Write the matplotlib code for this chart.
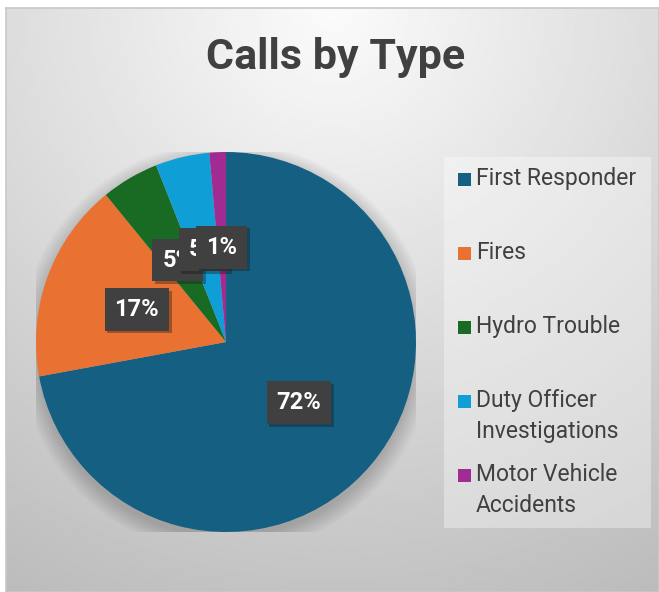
# Calls by Type - pie chart with boxed percentage labels
import numpy as np
import matplotlib.pyplot as plt
from matplotlib.patches import Rectangle, Circle
import matplotlib.patheffects as pe

categories = ["First Responder", "Fires", "Hydro Trouble",
              "Duty Officer Investigations", "Motor Vehicle Accidents"]
legend_labels = ["First Responder", "Fires", "Hydro Trouble",
                 "Duty Officer\nInvestigations", "Motor Vehicle\nAccidents"]
shares = [72.1, 17.0, 4.9, 4.6, 1.4]
colors = ["#156082", "#E97132", "#196B24", "#0F9ED5", "#A02B93"]

plt.rcParams["font.family"] = ["Roboto", "DejaVu Sans"]

W, H = 659, 592
fig = plt.figure(figsize=(W / 100, H / 100), dpi=100, facecolor="white")

# chart area background: soft radial gradient, light at top centre
bg = fig.add_axes([6 / W, 0, 1 - 6 / W, 1 - 8 / H])
yy, xx = np.mgrid[0:1:300j, 0:1:300j]
dist = np.sqrt(((xx - 0.5) * 1.1) ** 2 + (yy * 1.0) ** 2)
shade = 0.985 - 0.22 * np.clip(dist, 0, 1.2)
bg.imshow(shade, cmap="gray", vmin=0, vmax=1, aspect="auto",
          extent=[0, 1, 1, 0], interpolation="bilinear")
bg.set_xlim(0, 1)
bg.set_ylim(1, 0)
bg.set_xticks([])
bg.set_yticks([])
for s in bg.spines.values():
    s.set_color("#c8c8c8")
    s.set_linewidth(1.2)

# title
fig.text(336 / W, 1 - 58 / H, "Calls by Type", ha="center", va="center",
         fontsize=31, fontweight="bold", color="#404040")

# pie
cx, cy, r = 226, 342, 190
ax = fig.add_axes([(cx - r) / W, (H - cy - r) / H, 2 * r / W, 2 * r / H])

# soft shadow under the pie
for k in range(8):
    ax.add_patch(Circle((0, -0.03), 1.0 + 0.012 * k, color="black",
                        alpha=0.025, lw=0, zorder=0))

wedges, texts, autotexts = ax.pie(
    shares, colors=colors, startangle=90, counterclock=False,
    radius=1, autopct="%.0f%%", pctdistance=0.5,
    wedgeprops=dict(linewidth=0),
    textprops=dict(color="white", fontsize=17, fontweight="bold"))
for t in autotexts:
    t.set_bbox(dict(boxstyle="square,pad=0.42", facecolor="#404040",
                    edgecolor="none"))
    t.get_bbox_patch().set_path_effects(
        [pe.SimplePatchShadow(offset=(2, -2), alpha=0.35), pe.Normal()])
    t.set_zorder(5)

# pie() resets the limits, so set them afterwards
ax.set_xlim(-1, 1)
ax.set_ylim(-1, 1)
ax.set_aspect("equal")
ax.axis("off")

# legend drawn as a panel on the right
lx0, ly0, lx1, ly1 = 444, 157, 651, 528
fig.patches.append(Rectangle((lx0 / W, 1 - ly1 / H), (lx1 - lx0) / W,
                             (ly1 - ly0) / H, transform=fig.transFigure,
                             facecolor="white", alpha=0.35, edgecolor="none"))
for i, (lab, col) in enumerate(zip(legend_labels, colors)):
    y = 179 + 74 * i
    fig.patches.append(Rectangle((458 / W, 1 - (y + 7) / H), 13 / W, 13 / H,
                                 transform=fig.transFigure, facecolor=col,
                                 edgecolor="none"))
    fig.text(476 / W, 1 - (y - 12) / H, lab, ha="left", va="top",
             fontsize=16.5, color="#404040", linespacing=1.42)

fig.savefig("out.png", dpi=100, facecolor="white")
